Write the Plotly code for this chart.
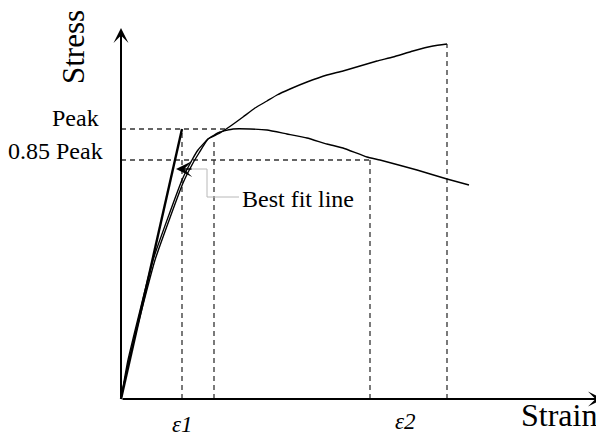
import plotly.graph_objects as go

# Hardening curve (strain, stress) in arbitrary units
hard_strain = [0, 7, 32, 61, 71, 77, 87, 99, 111, 122, 134, 146, 156, 169, 186, 206, 222, 239, 256, 272, 292, 312, 326]
hard_stress = [0, 39, 139, 219, 239, 249, 260, 266, 274, 282, 291, 298, 304, 310, 317, 324, 328, 333, 338, 342, 348, 353, 355]

# Softening curve
soft_strain = [0, 8, 34, 62, 72, 78, 87, 99, 112, 129, 146, 166, 186, 206, 222, 246, 259, 296, 326, 348]
soft_stress = [0, 39, 139, 216, 236, 246, 260, 267, 270, 270, 269, 265, 261, 255, 251, 242, 239, 229, 220, 214]

# Key levels
peak = 270
peak85 = 239
eps1 = 61
eps_kink = 93
eps2 = 249
eps_end = 326
kink_stress = 261
end_stress = 355
peak_line_end = 107

fit_strain = [0, eps1]
fit_stress = [0, peak]

FONT = "Liberation Serif"
DASH = dict(color="#333333", width=1.3, dash="5px,4px")

fig = go.Figure()

# dashed guide lines
guides = [
    ([0, peak_line_end], [peak, peak]),
    ([0, eps2], [peak85, peak85]),
    ([eps1, eps1], [0, peak]),
    ([eps_kink, eps_kink], [0, kink_stress]),
    ([eps2, eps2], [0, peak85]),
    ([eps_end, eps_end], [0, end_stress]),
]
for gx, gy in guides:
    fig.add_trace(go.Scatter(x=gx, y=gy, mode="lines", line=DASH, hoverinfo="skip"))

fig.add_trace(go.Scatter(x=hard_strain, y=hard_stress, mode="lines",
                         line=dict(color="black", width=1.4, shape="spline", smoothing=0.4),
                         hoverinfo="skip"))
fig.add_trace(go.Scatter(x=soft_strain, y=soft_stress, mode="lines",
                         line=dict(color="black", width=1.4, shape="spline", smoothing=0.4),
                         hoverinfo="skip"))
fig.add_trace(go.Scatter(x=fit_strain, y=fit_stress, mode="lines",
                         line=dict(color="black", width=2.4), hoverinfo="skip"))

# leader line for "Best fit line"
tip_x, tip_y = 55, 230
leader_x = [70, 86, 86, 118]
leader_y = [230, 230, 202, 202]
fig.add_trace(go.Scatter(x=leader_x, y=leader_y, mode="lines",
                         line=dict(color="#b8b8b8", width=1), hoverinfo="skip"))

# axes arrows
fig.add_annotation(x=0, y=371, ax=0, ay=0, xref="x", yref="y", axref="x", ayref="y",
                   showarrow=True, arrowhead=3, arrowwidth=2, arrowsize=1.25, arrowcolor="black", text="")
fig.add_annotation(x=482, y=0, ax=0, ay=0, xref="x", yref="y", axref="x", ayref="y",
                   showarrow=True, arrowhead=3, arrowwidth=2, arrowsize=1.25, arrowcolor="black", text="")
# best fit arrow head
fig.add_annotation(x=tip_x, y=tip_y, ax=72, ay=230, xref="x", yref="y", axref="x", ayref="y",
                   showarrow=True, arrowhead=3, arrowwidth=1.5, arrowsize=1.8, arrowcolor="black", text="")

def txt(x, y, s, size, xanchor="center", angle=0):
    fig.add_annotation(x=x, y=y, xref="x", yref="y", text=s, showarrow=False,
                       xanchor=xanchor, yanchor="middle", textangle=angle,
                       font=dict(family=FONT, size=size, color="black"))

txt(-48, 352, "Stress", 31, angle=-90)
txt(438, -16, "Strain", 32)
txt(-20, 281, "Peak", 24, xanchor="right")
txt(-16, 248, "0.85 Peak", 24, xanchor="right")
txt(119, 200, "Best fit line", 24, xanchor="left")
txt(61, -25, "<i>ε1</i>", 23)
txt(284, -22, "<i>ε2</i>", 23)

# the page body adds an 8px offset; ranges are chosen so the origin lands at (121, 399)
fig.update_layout(
    width=604, height=439, margin=dict(l=0, r=0, t=0, b=0),
    paper_bgcolor="white", plot_bgcolor="white", showlegend=False,
    xaxis=dict(range=[-113, 491], visible=False, fixedrange=True),
    yaxis=dict(range=[-48, 391], visible=False, fixedrange=True),
)

fig.write_html("out.html")
